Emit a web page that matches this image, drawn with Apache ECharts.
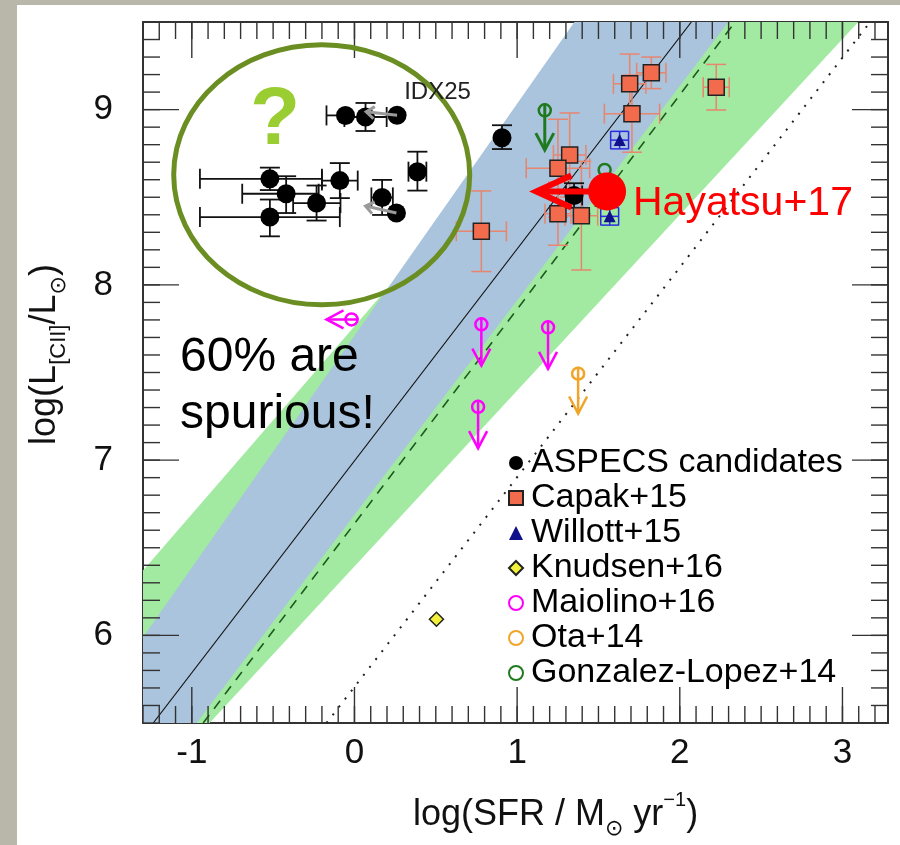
<!DOCTYPE html>
<html><head><meta charset="utf-8">
<script src="https://cdn.jsdelivr.net/npm/echarts@6/dist/echarts.min.js"></script>
<style>
html,body{margin:0;padding:0;}
body{width:900px;height:845px;background:#b9b7aa;position:relative;overflow:hidden;}
#bg{position:absolute;left:17px;top:5px;width:883px;height:840px;background:#fff;}
#chart{position:absolute;left:0;top:0;width:900px;height:845px;}
</style></head><body><div id="bg"></div><div id="chart"></div>
<script>
// ---------- axis ranges & tick labels ----------
const xMin = -1.3, xMax = 3.28, yMin = 5.5, yMax = 9.5;
const majorXTicks = [-1, 0, 1, 2, 3];
const majorYTicks = [6, 7, 8, 9];

// ---------- shaded bands (vertices read at the frame) ----------
const greenPolygon = [[-1.3, 6.37], [1.62, 9.5], [3.097, 9.5], [-0.891, 5.5], [-1.3, 5.5]];
const bluePolygon  = [[-1.3, 5.99], [1.352, 9.5], [2.298, 9.5], [-0.971, 5.5], [-1.3, 5.5]];

// ---------- relations ----------
const solidLine  = [[-1.237, 5.5], [2.071, 9.5]];
const dashedLine = [[-0.93, 5.5], [2.34, 9.5]];
const dottedLine = [[-0.172, 5.5], [3.17, 9.5]];

// ---------- ASPECS candidates ----------
const aspecsX      = [-0.055, 0.068, 0.262, -0.52, -0.42, -0.233, -0.09, -0.52, 0.17, 0.258, 0.387, 0.907, 1.35];
const aspecsY      = [8.967, 8.958, 8.968, 8.605, 8.52, 8.467, 8.595, 8.387, 8.499, 8.41, 8.646, 8.839, 8.51];
const aspecsXErrLo = [0.117, 0.13, 0, 0.43, 0.27, 0.144, 0.11, 0.43, 0.066, 0, 0.055, 0, 0.05];
const aspecsXErrHi = [0, 0.13, 0, 0.32, 0.2, 0.147, 0.11, 0.43, 0.066, 0, 0.055, 0, 0.05];
const aspecsYErrLo = [0, 0.08, 0, 0.064, 0.11, 0.1, 0.1, 0.11, 0.1, 0, 0.108, 0.064, 0.07];
const aspecsYErrHi = [0, 0.08, 0, 0.064, 0.1, 0.1, 0.1, 0.1, 0.1, 0, 0.114, 0.072, 0.07];
// grey upper-limit arrows on two ASPECS candidates
const aspecsLimX  = [0.262, 0.258];
const aspecsLimY  = [8.968, 8.41];
const aspecsLimDX = [-0.19, -0.19];
const aspecsLimDY = [0.02, 0.04];

// ---------- Capak+15 ----------
const capakX    = [1.692, 1.825, 1.706, 2.224, 1.323, 1.251, 0.78, 1.251, 1.395];
const capakY    = [9.147, 9.21, 8.977, 9.128, 8.741, 8.665, 8.306, 8.406, 8.395];
const capakXErr = [0.1, 0.09, 0.17, 0.08, 0.1, 0.195, 0.154, 0.08, 0.1];
const capakYErr = [0.17, 0.09, 0.22, 0.13, 0.24, 0.28, 0.23, 0.18, 0.31];

// ---------- Willott+15 ----------
const willottX = [1.63, 1.569];
const willottY = [8.826, 8.391];
const willottXErr = [0.055, 0.055];
const willottYErr = [0.05, 0.05];

// ---------- Knudsen+16 ----------
const knudsenX = [0.504];
const knudsenY = [6.092];

// ---------- Maiolino+16 (limits) ----------
const maiolinoX  = [-0.018, 0.78, 0.76, 1.19];
const maiolinoY  = [7.803, 7.775, 7.304, 7.758];
const maiolinoDX = [-0.154, 0, 0, 0];
const maiolinoDY = [0, -0.236, -0.236, -0.237];

// ---------- Ota+14 ----------
const otaX = [1.375];
const otaY = [7.493];
const otaDX = [0];
const otaDY = [-0.227];

// ---------- Gonzalez-Lopez+14 ----------
const glX = [1.17, 1.538];
const glY = [8.996, 8.656];
const glDX = [0, 0];
const glDY = [-0.227, 0];

// ---------- Hayatsu+17 ----------
const hayX = [1.553];
const hayY = [8.533];
const hayDX = [-0.435];
const hayDY = [0];

const legendNames = ['ASPECS candidates', 'Capak+15', 'Willott+15', 'Knudsen+16', 'Maiolino+16', 'Ota+14', 'Gonzalez-Lopez+14'];

const FONT = '"Liberation Sans", Arial, Helvetica, sans-serif';

// minor tick positions every 0.1 (axis decoration)
const minorXTicks = [], minorYTicks = [];
for (let k = Math.ceil(xMin * 10); k <= Math.floor(xMax * 10); k++) minorXTicks.push(k / 10);
for (let k = Math.ceil(yMin * 10); k <= Math.floor(yMax * 10); k++) minorYTicks.push(k / 10);

function isMajor(v, list) {
  const r = Math.round(v * 10) / 10;
  return list.some(t => Math.abs(t - r) < 1e-6);
}

function polygonRender(poly, color) {
  return function (params, api) {
    if (params.dataIndex !== 0) return { type: 'group', children: [] };
    return {
      type: 'polygon',
      shape: { points: poly.map(p => api.coord(p)) },
      style: { fill: color, stroke: null }
    };
  };
}

function errorBarRender(color, cap, lw) {
  return function (params, api) {
    const x = api.value(0), y = api.value(1);
    const xl = api.value(2), xh = api.value(3), yl = api.value(4), yh = api.value(5);
    const st = { stroke: color, lineWidth: lw, fill: null };
    const ch = [];
    const L = (a, b, c, d) => ch.push({ type: 'line', shape: { x1: a, y1: b, x2: c, y2: d }, style: st });
    if (xh > xl) {
      const a = api.coord([xl, y]), b = api.coord([xh, y]);
      L(a[0], a[1], b[0], b[1]);
      if (xl < x) L(a[0], a[1] - cap, a[0], a[1] + cap);
      if (xh > x) L(b[0], b[1] - cap, b[0], b[1] + cap);
    }
    if (yh > yl) {
      const a = api.coord([x, yl]), b = api.coord([x, yh]);
      L(a[0], a[1], b[0], b[1]);
      if (yl < y) L(a[0] - cap, a[1], a[0] + cap, a[1]);
      if (yh > y) L(b[0] - cap, b[1], b[0] + cap, b[1]);
    }
    return { type: 'group', children: ch };
  };
}

function arrowRender(color, lw, hl, hw, off) {
  return function (params, api) {
    const x = api.value(0), y = api.value(1), dx = api.value(2), dy = api.value(3);
    if (!dx && !dy) return { type: 'group', children: [] };
    const s = api.coord([x, y]), e = api.coord([x + dx, y + dy]);
    let ux = e[0] - s[0], uy = e[1] - s[1];
    const len = Math.hypot(ux, uy); ux /= len; uy /= len;
    const nx = -uy, ny = ux;
    const st = { stroke: color, lineWidth: lw, fill: null };
    return {
      type: 'group',
      children: [
        { type: 'line', shape: { x1: s[0] + ux * off, y1: s[1] + uy * off, x2: e[0], y2: e[1] }, style: st },
        { type: 'polyline', shape: { points: [
          [e[0] - ux * hl + nx * hw, e[1] - uy * hl + ny * hw],
          [e[0], e[1]],
          [e[0] - ux * hl - nx * hw, e[1] - uy * hl - ny * hw]
        ] }, style: st }
      ]
    };
  };
}

function tickRender(isX, len) {
  return function (params, api) {
    const v = api.value(isX ? 0 : 1);
    const st = { stroke: '#333', lineWidth: 1.4 };
    if (isX) {
      const a = api.coord([v, yMin]), b = api.coord([v, yMax]);
      return { type: 'group', children: [
        { type: 'line', shape: { x1: a[0], y1: a[1], x2: a[0], y2: a[1] - len }, style: st },
        { type: 'line', shape: { x1: b[0], y1: b[1], x2: b[0], y2: b[1] + len }, style: st }
      ] };
    }
    const a = api.coord([xMin, v]), b = api.coord([xMax, v]);
    return { type: 'group', children: [
      { type: 'line', shape: { x1: a[0], y1: a[1], x2: a[0] + len, y2: a[1] }, style: st },
      { type: 'line', shape: { x1: b[0], y1: b[1], x2: b[0] - len, y2: b[1] }, style: st }
    ] };
  };
}

const errData = (X, Y, xlo, xhi, ylo, yhi) => X.map((x, i) => [x, Y[i], x - xlo[i], x + xhi[i], Y[i] - ylo[i], Y[i] + yhi[i]]);
const arrData = (X, Y, DX, DY) => X.map((x, i) => [x, Y[i], DX[i], DY[i]]);
const ptData = (X, Y) => X.map((x, i) => [x, Y[i]]);

const axisCommon = {
  type: 'value',
  interval: 0.1,
  axisLine: { show: true, onZero: false, lineStyle: { color: '#333', width: 2 } },
  axisTick: { show: false },
  splitLine: { show: false }
};

const chart = echarts.init(document.getElementById('chart'), null, { renderer: 'canvas' });
chart.setOption({
  animation: false,
  backgroundColor: 'transparent',
  grid: { left: 143, top: 22, width: 745, height: 704, show: false },
  xAxis: [
    Object.assign({}, axisCommon, {
      min: xMin, max: xMax, position: 'bottom',
      axisLabel: { show: true, margin: 13, fontSize: 35, fontFamily: FONT, color: '#111',
        formatter: v => isMajor(v, majorXTicks) ? String(Math.round(v)) : '' },
      name: 'log(SFR / M{sub|⊙} yr{sup|−1})',
      nameLocation: 'middle', nameGap: 67,
      nameTextStyle: { fontSize: 36, fontFamily: FONT, color: '#111', lineHeight: 50, padding: [0, 0, 0, 80],
        rich: { sub: { fontSize: 22, lineHeight: 22, verticalAlign: 'bottom', fontFamily: 'DejaVu Sans', color: '#111' },
                sup: { fontSize: 20, lineHeight: 20, verticalAlign: 'top', fontFamily: FONT, color: '#111' } } }
    }),
    Object.assign({}, axisCommon, { min: xMin, max: xMax, position: 'top', axisLabel: { show: false } })
  ],
  yAxis: [
    Object.assign({}, axisCommon, {
      min: yMin, max: yMax, position: 'left',
      axisLabel: { show: true, margin: 30, fontSize: 35, fontFamily: FONT, color: '#111',
        formatter: v => isMajor(v, majorYTicks) ? String(Math.round(v)) : '' },
      name: 'log(L{sub|[CII]}/L{sub2|⊙})',
      nameLocation: 'middle', nameGap: 73, nameRotate: 90,
      nameTextStyle: { fontSize: 36, fontFamily: FONT, color: '#111', lineHeight: 50, padding: [0, 0, 0, 36],
        rich: { sub: { fontSize: 22, lineHeight: 22, verticalAlign: 'bottom', fontFamily: FONT, color: '#111' },
                sub2: { fontSize: 22, lineHeight: 22, verticalAlign: 'bottom', fontFamily: 'DejaVu Sans', color: '#111' } } }
    }),
    Object.assign({}, axisCommon, { min: yMin, max: yMax, position: 'right', axisLabel: { show: false } })
  ],
  legend: {
    data: legendNames,
    orient: 'vertical', left: 508, top: 446, padding: 0,
    itemWidth: 14, itemHeight: 14, itemGap: 1,
    textStyle: { fontSize: 34, fontFamily: FONT, color: '#000', lineHeight: 30, padding: [0, 0, 0, 3] }
  },
  series: [
    { name: 'band green', type: 'custom', data: greenPolygon, encode: { x: 0, y: 1 }, renderItem: polygonRender(greenPolygon, '#a2eaa2'), z: 1, silent: true },
    { name: 'band blue', type: 'custom', data: bluePolygon, encode: { x: 0, y: 1 }, renderItem: polygonRender(bluePolygon, '#a9c4dc'), z: 1, silent: true },
    { name: 'relation solid', type: 'line', data: solidLine, symbol: 'none', lineStyle: { color: '#111', width: 1.2 }, z: 3, silent: true },
    { name: 'relation dashed', type: 'line', data: dashedLine, symbol: 'none', lineStyle: { color: '#1d5a1d', width: 1.6, type: [10, 8] }, z: 3, silent: true },
    { name: 'relation dotted', type: 'line', data: dottedLine, symbol: 'none', lineStyle: { color: '#222', width: 2, type: [2, 8] }, z: 3, silent: true },
    { name: 'minor x ticks', type: 'custom', data: minorXTicks.map(v => [v, yMin]), encode: { x: 0, y: 1 }, renderItem: tickRender(true, 17), z: 10, silent: true, clip: false },
    { name: 'minor y ticks', type: 'custom', data: minorYTicks.map(v => [xMin, v]), encode: { x: 0, y: 1 }, renderItem: tickRender(false, 17), z: 10, silent: true, clip: false },
    { name: 'major x ticks', type: 'custom', data: majorXTicks.map(v => [v, yMin]), encode: { x: 0, y: 1 }, renderItem: tickRender(true, 36), z: 10, silent: true, clip: false },
    { name: 'major y ticks', type: 'custom', data: majorYTicks.map(v => [xMin, v]), encode: { x: 0, y: 1 }, renderItem: tickRender(false, 36), z: 10, silent: true, clip: false },

    { name: 'Capak errors', type: 'custom', data: errData(capakX, capakY, capakXErr, capakXErr, capakYErr, capakYErr), encode: { x: 0, y: 1 }, renderItem: errorBarRender('#e8856f', 10, 1.5), z: 5, silent: true },
    { name: 'ASPECS errors', type: 'custom', data: errData(aspecsX, aspecsY, aspecsXErrLo, aspecsXErrHi, aspecsYErrLo, aspecsYErrHi), encode: { x: 0, y: 1 }, renderItem: errorBarRender('#111', 10, 1.8), z: 5, silent: true },
    { name: 'Willott errors', type: 'custom', data: errData(willottX, willottY, willottXErr, willottXErr, willottYErr, willottYErr), encode: { x: 0, y: 1 }, renderItem: errorBarRender('#2a2ae0', 9, 1.5), z: 5, silent: true },

    { name: 'ASPECS candidates', type: 'scatter', data: ptData(aspecsX, aspecsY), symbol: 'circle', symbolSize: 19, itemStyle: { color: '#000', opacity: 1 }, z: 6 },
    { name: 'ASPECS limits', type: 'custom', data: arrData(aspecsLimX, aspecsLimY, aspecsLimDX, aspecsLimDY), encode: { x: 0, y: 1 }, renderItem: arrowRender('#9a9a9a', 3, 8, 6, 0), z: 7, silent: true },
    { name: 'Capak+15', type: 'scatter', data: ptData(capakX, capakY), symbol: 'rect', symbolSize: 16, itemStyle: { color: '#f26b4c', borderColor: '#222', borderWidth: 1.5, opacity: 1 }, z: 6 },
    { name: 'Willott+15', type: 'scatter', data: ptData(willottX, willottY), symbol: 'triangle', symbolSize: 12, itemStyle: { color: '#10108a', opacity: 1 }, z: 6 },
    { name: 'Knudsen+16', type: 'scatter', data: ptData(knudsenX, knudsenY), symbol: 'diamond', symbolSize: 14, itemStyle: { color: '#f2f03a', borderColor: '#222', borderWidth: 1.5, opacity: 1 }, z: 6 },
    { name: 'Maiolino+16', type: 'scatter', data: ptData(maiolinoX, maiolinoY), symbol: 'circle', symbolSize: 12, itemStyle: { color: 'rgba(255,255,255,0)', borderColor: '#ff00ff', borderWidth: 2.5, opacity: 1 }, z: 6 },
    { name: 'Ota+14', type: 'scatter', data: ptData(otaX, otaY), symbol: 'circle', symbolSize: 12, itemStyle: { color: 'rgba(255,255,255,0)', borderColor: '#f0a52a', borderWidth: 2.5, opacity: 1 }, z: 6 },
    { name: 'Gonzalez-Lopez+14', type: 'scatter', data: ptData(glX, glY), symbol: 'circle', symbolSize: 12, itemStyle: { color: 'rgba(255,255,255,0)', borderColor: '#1f7a1f', borderWidth: 2.5, opacity: 1 }, z: 6 },
    { name: 'Maiolino limits', type: 'custom', data: arrData(maiolinoX, maiolinoY, maiolinoDX, maiolinoDY), encode: { x: 0, y: 1 }, renderItem: arrowRender('#ff00ff', 2.5, 17, 9, -7), z: 6, silent: true },
    { name: 'Ota limits', type: 'custom', data: arrData(otaX, otaY, otaDX, otaDY), encode: { x: 0, y: 1 }, renderItem: arrowRender('#f0a52a', 2.5, 17, 9, -7), z: 6, silent: true },
    { name: 'GL limits', type: 'custom', data: arrData(glX, glY, glDX, glDY), encode: { x: 0, y: 1 }, renderItem: arrowRender('#1f7a1f', 3, 17, 9, -7), z: 6, silent: true },

    { name: 'Hayatsu limit', type: 'custom', data: arrData(hayX, hayY, hayDX, hayDY), encode: { x: 0, y: 1 }, renderItem: arrowRender('#ff0000', 6, 35, 16, 0), z: 8, silent: true },
    { name: 'Hayatsu+17', type: 'scatter', data: ptData(hayX, hayY), symbol: 'circle', symbolSize: 38, itemStyle: { color: '#ff0000', opacity: 1 }, z: 9 }
  ],
  graphic: [
    { type: 'ellipse', shape: { cx: 321.7, cy: 174.7, rx: 148, ry: 130 }, style: { fill: null, stroke: '#6b8e23', lineWidth: 5 }, z: 100 },
    { type: 'text', x: 275, y: 121, style: { text: '?', fontSize: 82, fontWeight: 'bold', fontFamily: FONT, fill: '#9acd32', align: 'center', verticalAlign: 'middle' }, z: 100 },
    { type: 'text', x: 437.5, y: 92, style: { text: 'IDX25', fontSize: 24, fontFamily: FONT, fill: '#222', align: 'center', verticalAlign: 'middle' }, z: 100 },
    { type: 'text', x: 180, y: 358, style: { text: '60% are', fontSize: 48, fontFamily: FONT, fill: '#000', align: 'left', verticalAlign: 'middle' }, z: 100 },
    { type: 'text', x: 180, y: 415, style: { text: 'spurious!', fontSize: 48, fontFamily: FONT, fill: '#000', align: 'left', verticalAlign: 'middle' }, z: 100 },
    { type: 'text', x: 633, y: 204, style: { text: 'Hayatsu+17', fontSize: 41, fontFamily: FONT, fill: '#ff0000', align: 'left', verticalAlign: 'middle' }, z: 100 }
  ]
});
</script></body></html>
